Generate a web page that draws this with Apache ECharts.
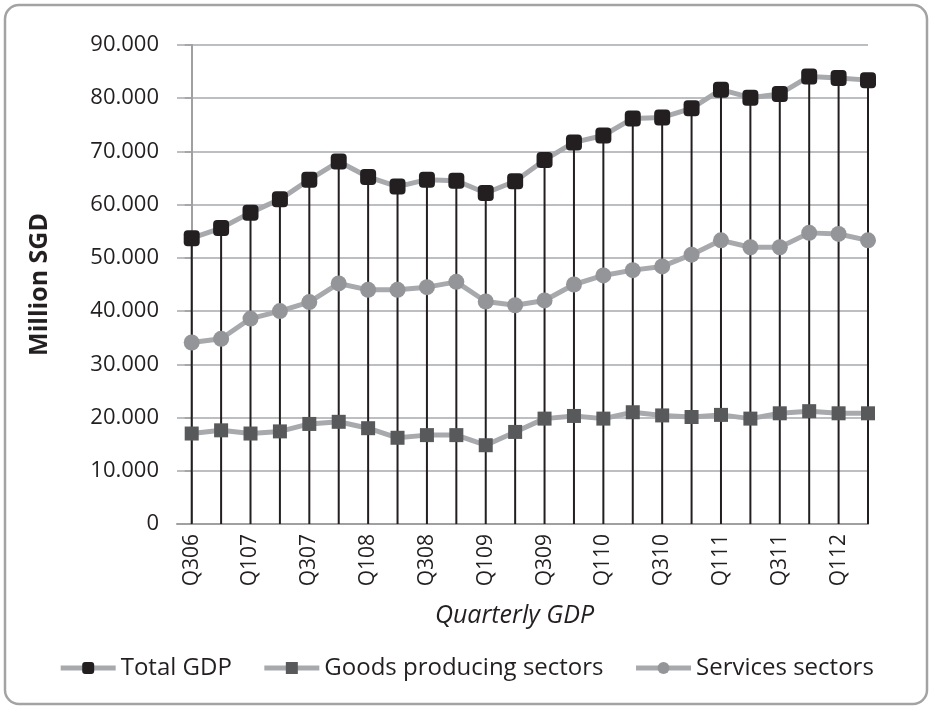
<!DOCTYPE html>
<html>
<head>
<meta charset="utf-8">
<script src="https://cdn.jsdelivr.net/npm/echarts@6/dist/echarts.min.js"></script>
<style>
html,body{margin:0;padding:0;background:#fff;}
#chart{width:932px;height:710px;}
</style>
</head>
<body>
<div id="chart"></div>
<script>
const categories = ['Q306','Q406','Q107','Q207','Q307','Q407','Q108','Q208','Q308','Q408','Q109','Q209','Q309','Q409','Q110','Q210','Q310','Q410','Q111','Q211','Q311','Q411','Q112','Q212'];
const totalGDP = [53700,55600,58500,61000,64700,68100,65200,63400,64700,64500,62200,64400,68400,71700,73000,76200,76400,78100,81600,80100,80800,84100,83800,83400];
const goodsProducing = [17000,17600,17000,17400,18800,19200,18000,16200,16700,16700,14800,17300,19800,20300,19800,21000,20400,20100,20500,19800,20800,21200,20800,20800];
const servicesSectors = [34100,34800,38600,40000,41700,45200,44000,44000,44500,45500,41800,41100,42000,45000,46700,47700,48400,50600,53300,52000,52000,54700,54500,53300];
const yTicks = [0,10000,20000,30000,40000,50000,60000,70000,80000,90000];
const seriesNames = ['Total GDP','Goods producing sectors','Services sectors'];

const FONT = '"Open Sans", "Noto Sans", sans-serif';
const TXT = '#231f20';
const toPairs = arr => arr.map((v,i)=>[i,v]);
const labelIdx = categories.map((c,i)=>i).filter(i=>i%2===0);

const chart = echarts.init(document.getElementById('chart'));
chart.setOption({
  animation:false,
  backgroundColor:'#fff',
  textStyle:{fontFamily:FONT,color:TXT},
  graphic:[{
    type:'rect',
    shape:{x:5,y:5,width:922,height:699,r:14},
    style:{fill:'none',stroke:'#a3a3a3',lineWidth:2.5},
    silent:true,z:-1
  }],
  grid:{left:177,right:64,top:45,bottom:186,containLabel:false},
  legend:{
    data:seriesNames,
    bottom:25,
    left:'center',
    itemWidth:55,
    itemHeight:15,
    itemGap:30,
    lineStyle:{width:5,color:'#a7a9ac'},
    textStyle:{fontFamily:FONT,fontSize:24,color:TXT}
  },
  xAxis:{
    type:'value',
    min:-0.5,
    max:categories.length-1,
    name:'Quarterly GDP',
    nameLocation:'middle',
    nameGap:79,
    nameTextStyle:{fontFamily:FONT,fontSize:25,fontStyle:'italic',color:TXT,padding:[0,16,0,0]},
    axisLine:{show:true,lineStyle:{color:'#a0a0a0',width:2}},
    axisTick:{show:false},
    splitLine:{show:false},
    axisLabel:{
      customValues:labelIdx,
      rotate:90,
      margin:10,
      fontFamily:FONT,
      fontSize:21,
      color:TXT,
      formatter:v=>categories[Math.round(v)]||''
    }
  },
  yAxis:{
    type:'value',
    min:yTicks[0],
    max:yTicks[yTicks.length-1],
    interval:yTicks[1]-yTicks[0],
    name:'Million SGD',
    nameLocation:'middle',
    nameGap:125,
    nameTextStyle:{fontFamily:FONT,fontSize:25,fontWeight:'bold',color:TXT},
    axisLine:{show:true,lineStyle:{color:'#a0a0a0',width:2}},
    axisTick:{show:true,length:7,lineStyle:{color:'#a0a0a0',width:1.5}},
    splitLine:{show:true,lineStyle:{color:'#a7a9ac',width:1.5}},
    axisLabel:{
      margin:18,
      fontFamily:FONT,
      fontSize:22,
      color:TXT,
      formatter:v=>v===0?'0':(v/1000)+'.000'
    }
  },
  series:[
    {
      name:'drop',
      type:'bar',
      data:toPairs(totalGDP),
      barWidth:2,
      itemStyle:{color:'#231f20'},
      z:1,
      silent:true
    },
    {
      name:seriesNames[0],
      type:'line',
      data:toPairs(totalGDP),
      symbol:'roundRect',
      symbolSize:16,
      lineStyle:{color:'#a7a9ac',width:5},
      itemStyle:{color:'#231f20'},
      z:3
    },
    {
      name:seriesNames[1],
      type:'line',
      data:toPairs(goodsProducing),
      symbol:'rect',
      symbolSize:14,
      lineStyle:{color:'#a7a9ac',width:5},
      itemStyle:{color:'#58595b'},
      z:3
    },
    {
      name:seriesNames[2],
      type:'line',
      data:toPairs(servicesSectors),
      symbol:'circle',
      symbolSize:16,
      lineStyle:{color:'#a7a9ac',width:5},
      itemStyle:{color:'#939598'},
      z:3
    }
  ]
});
</script>
</body>
</html>
